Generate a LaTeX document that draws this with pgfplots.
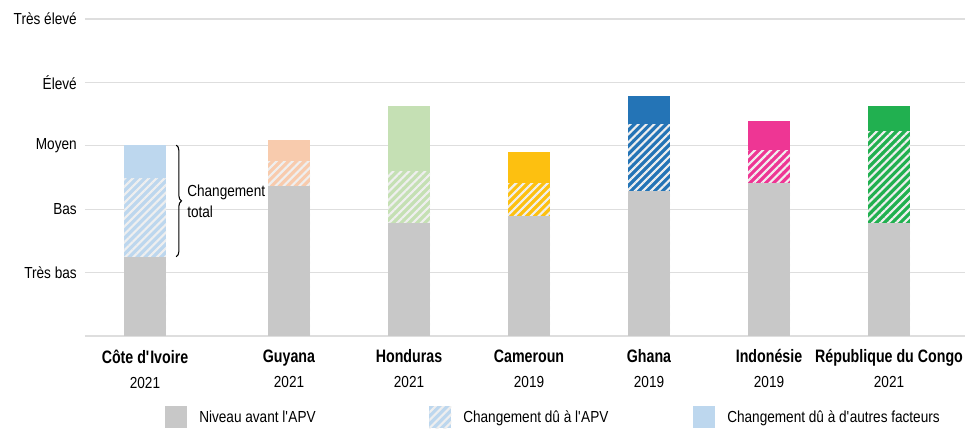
\documentclass[border=0pt]{standalone}
\usepackage{fontspec}
\setmainfont{Liberation Sans}[FakeStretch=0.85]
\newfontfamily\catfont{Liberation Sans}[FakeStretch=0.79]
\usepackage{pgfplots}
\pgfplotsset{compat=1.18}
\usetikzlibrary{patterns.meta,decorations.pathreplacing,calc}

\definecolor{cgray}{HTML}{C8C8C8}
\definecolor{gridc}{HTML}{DEDEDE}
\definecolor{stripe}{HTML}{EFEFEF}
\definecolor{cCI}{HTML}{BDD7EE}
\definecolor{cGY}{HTML}{F8CBAD}
\definecolor{cHN}{HTML}{C5E0B4}
\definecolor{cCM}{HTML}{FDC010}
\definecolor{cGH}{HTML}{2474B6}
\definecolor{cID}{HTML}{EE3694}
\definecolor{cCG}{HTML}{21B050}

\tikzset{hatch/.style={postaction={pattern={Lines[angle=45,distance=4.2pt,line width=1.6pt]},pattern color=stripe}}}

% #1 x position, #2 total level, #3 level after APV change, #4 level before APV, #5 colour
\newcommand\bars[5]{%
  \addplot[fill=#5] coordinates {(#1,#2)};
  \addplot[fill=#5,hatch] coordinates {(#1,#3)};
  \addplot[fill=cgray] coordinates {(#1,#4)};
}

\begin{document}
\begin{tikzpicture}
\begin{axis}[
  name=ax,
  scale only axis,
  width=660pt, height=237.75pt,
  xmin=-0.5, xmax=6.833,
  ymin=0, ymax=5,
  ybar, bar width=0.35, bar shift=0pt,
  every axis plot/.append style={draw=none},
  axis x line*=bottom, axis y line*=left,
  x axis line style={draw=gridc, line width=1pt},
  y axis line style={draw=none},
  major tick length=0pt,
  ymajorgrids, grid style={draw=gridc, line width=1pt},
  ytick={1,2,3,4,5},
  yticklabels={Très bas,Bas,Moyen,Élevé,Très élevé},
  yticklabel style={font=\fontsize{12}{14}\selectfont, inner xsep=0pt, xshift=-6pt},
  xtick={0,1.2,2.2,3.2,4.2,5.2,6.2},
  xticklabels={
    {{\catfont\bfseries\fontsize{13.5}{18.75}\selectfont Côte d\textquotesingle Ivoire}\\2021},
    {{\catfont\bfseries\fontsize{13.5}{18.75}\selectfont Guyana}\\2021},
    {{\catfont\bfseries\fontsize{13.5}{18.75}\selectfont Honduras}\\2021},
    {{\catfont\bfseries\fontsize{13.5}{18.75}\selectfont Cameroun}\\2019},
    {{\catfont\bfseries\fontsize{13.5}{18.75}\selectfont Ghana}\\2019},
    {{\catfont\bfseries\fontsize{13.5}{18.75}\selectfont Indonésie}\\2019},
    {{\catfont\bfseries\fontsize{13.5}{18.75}\selectfont République du Congo}\\2021}},
  xticklabel style={align=center, font=\fontsize{12}{18.75}\selectfont, inner ysep=0pt, yshift=-10pt},
  legend columns=3,
  legend style={draw=none, fill=none, inner sep=0pt,
    at={(rel axis cs:0,0)}, xshift=60pt, yshift=-61pt, anchor=west,
    font=\fontsize{12}{14}\selectfont, column sep=0pt,
    nodes={inner sep=0pt},
    /tikz/every odd column/.append style={column sep=9pt}},
]
\addlegendimage{legend image code/.code={\fill[cgray] (0pt,-8.25pt) rectangle (16.5pt,8.25pt);}}
\addlegendentry{\makebox[172.5pt][l]{Niveau avant l\textquotesingle APV}}
\addlegendimage{legend image code/.code={\path[fill=cCI,hatch] (0pt,-8.25pt) rectangle (16.5pt,8.25pt);}}
\addlegendentry{\makebox[172.5pt][l]{Changement dû à l\textquotesingle APV}}
\addlegendimage{legend image code/.code={\fill[cCI] (0pt,-8.25pt) rectangle (16.5pt,8.25pt);}}
\addlegendentry{Changement dû à d\textquotesingle autres facteurs}

\bars{0}{3.01}{2.49}{1.25}{cCI}
\bars{1.2}{3.09}{2.76}{2.37}{cGY}
\bars{2.2}{3.63}{2.60}{1.78}{cHN}
\bars{3.2}{2.90}{2.40}{1.89}{cCM}
\bars{4.2}{3.79}{3.34}{2.29}{cGH}
\bars{5.2}{3.39}{2.92}{2.41}{cID}
\bars{6.2}{3.63}{3.22}{1.78}{cCG}

\draw[decorate, decoration={brace, amplitude=4pt}, line width=0.8pt] (axis cs:0.26,3.01) -- (axis cs:0.26,1.25);
\node[anchor=west, align=left, font=\fontsize{12}{15.75}\selectfont, inner sep=0pt] at (axis cs:0.35,2.13) {Changement\\total};
\end{axis}
\pgfresetboundingbox
\useasboundingbox ($(ax.south west)+(-63.75pt,-70.5pt)$) rectangle ($(ax.north east)+(2.25pt,14.25pt)$);
\end{tikzpicture}
\end{document}
